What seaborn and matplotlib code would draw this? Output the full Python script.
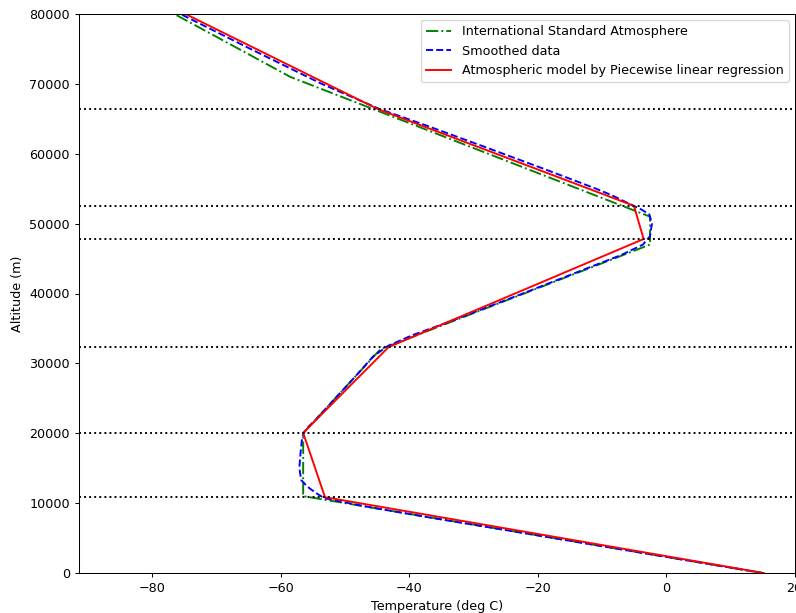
import matplotlib
matplotlib.use("Agg")
import matplotlib.pyplot as plt
import pandas as pd
import seaborn as sns

# International Standard Atmosphere (layer boundaries)
isa_alt = [0, 11000, 20000, 32000, 47000, 51000, 71000, 84852]
isa_temp = [15.0, -56.5, -56.5, -44.5, -2.5, -2.5, -58.5, -86.28]

# Smoothed sounding data
smooth_alt = [0, 2000, 4000, 6000, 8000, 9500, 10700, 11500, 12400, 13300,
              15000, 17300, 19000, 20100, 21000, 22000, 24000, 28000, 31000,
              32500, 34000, 36000, 40000, 44000, 45500, 47000, 48200, 50000,
              51300, 52000, 52600, 54000, 55000, 58000, 61000, 64000, 66400,
              70000, 75000, 80000, 84852]
smooth_temp = [15.0, 2.0, -11.0, -24.0, -37.2, -46.6, -53.2, -54.6, -55.9, -56.8,
               -57.1, -56.9, -56.7, -56.4, -55.6, -54.5, -52.5, -48.5, -45.6,
               -43.3, -39.6, -33.6, -22.3, -11.2, -7.0, -3.6, -2.5, -2.2,
               -2.6, -3.8, -5.2, -8.3, -10.9, -19.5, -28.3, -37.2, -44.6,
               -53.6, -64.7, -75.6, -86.0]

# Piecewise linear regression model
model_alt = [0, 10850, 20050, 32330, 47800, 52550, 66400, 84852]
model_temp = [15.2, -53.1, -56.5, -43.2, -3.5, -5.0, -44.9, -85.5]
breakpoints = model_alt[1:-1]

isa = pd.DataFrame({"temp": isa_temp, "alt": isa_alt})
smooth = pd.DataFrame({"temp": smooth_temp, "alt": smooth_alt})
model = pd.DataFrame({"temp": model_temp, "alt": model_alt})

DPI = 92
W, H = 796, 613
fig = plt.figure(figsize=(W / DPI, H / DPI), dpi=DPI)
ax = fig.add_axes([79 / W, (H - 573) / H, (795 - 79) / W, (573 - 14) / H])

sns.lineplot(data=isa, x="temp", y="alt", sort=False, estimator=None,
             color="g", linestyle="-.", linewidth=1.5,
             label="International Standard Atmosphere", ax=ax)
sns.lineplot(data=smooth, x="temp", y="alt", sort=False, estimator=None,
             color="b", linestyle="--", linewidth=1.5,
             label="Smoothed data", ax=ax)
sns.lineplot(data=model, x="temp", y="alt", sort=False, estimator=None,
             color="r", linestyle="-", linewidth=1.5,
             label="Atmospheric model by Piecewise linear regression", ax=ax)

for b in breakpoints:
    ax.axhline(b, color="k", linestyle=":", linewidth=1.5)

ax.set_xlim(-91.4, 20.07)
ax.set_ylim(0, 80000)
ax.set_xlabel("Temperature (deg C)")
ax.set_ylabel("Altitude (m)")
ax.legend(loc="upper right")

fig.savefig("out.png", dpi=DPI)
